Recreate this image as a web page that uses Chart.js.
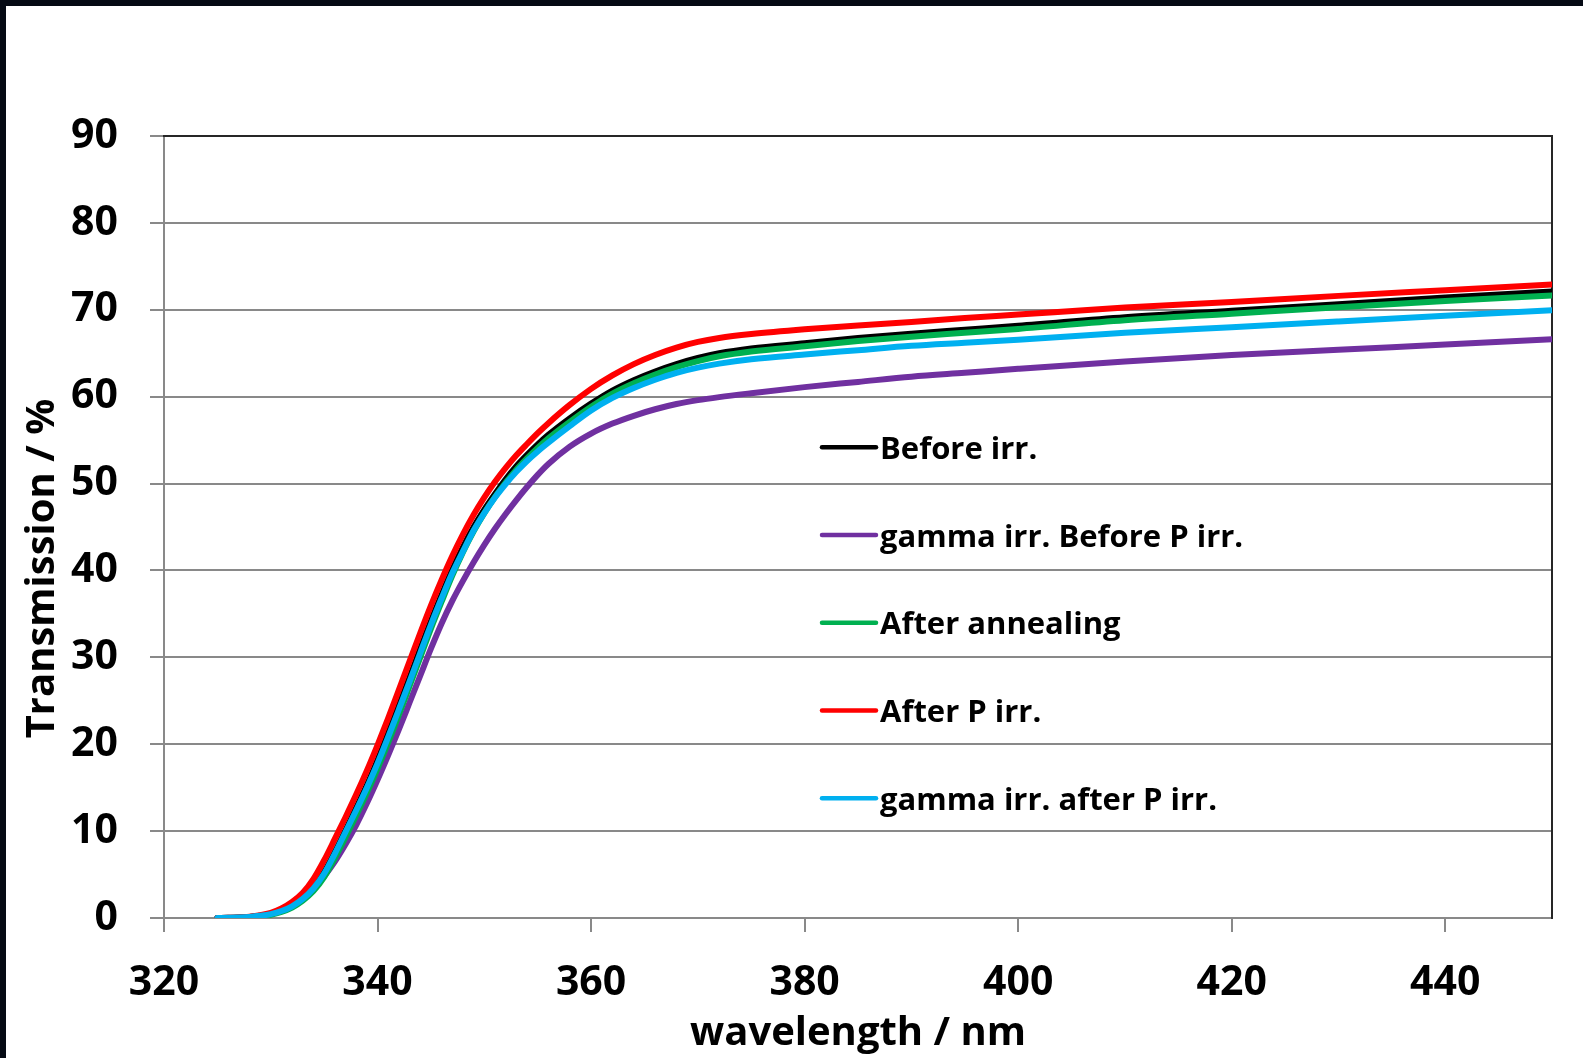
<!DOCTYPE html>
<html>
<head>
<meta charset="utf-8">
<script src="https://cdn.jsdelivr.net/npm/chart.js@4.4.1/dist/chart.umd.min.js"></script>
<style>
  html, body { margin: 0; padding: 0; background: #ffffff; overflow: hidden; }
  #wrap { position: relative; width: 1583px; height: 1058px; }
  canvas { position: absolute; left: 0; top: 0; background: #ffffff; }
  .frame { position: absolute; background: #050a14; }
</style>
</head>
<body>
<div id="wrap">
  <canvas id="c" width="1583" height="1058"></canvas>
  <div class="frame" style="left:0;top:0;width:1583px;height:6px;"></div>
  <div class="frame" style="left:0;top:0;width:6px;height:1058px;"></div>
</div>
<script>
// ---- data ----
const wavelengths = [325,326,327,328,329,330,331,332,333,334,335,336,337,338,339,340,341,342,343,344,345,346,347,348,349,350,351,352,353,354,355,356,358,360,362,364,366,368,370,372,375,380,385,390,395,400,410,420,430,440,450];

const seriesLabels = ["Before irr.", "gamma irr. Before P irr.", "After annealing", "After P irr.", "gamma irr. after P irr."];
const seriesColors = ["#000000", "#7030A0", "#00B050", "#FF0000", "#00B0F0"];

const beforeIrr = [0,0.02,0.05,0.12,0.25,0.45,0.8,1.4,2.3,3.5,5.3,7.6,10.1,12.7,15.3,18.2,21.3,24.5,27.7,31.0,34.2,37.2,40.1,42.7,45.0,47.0,48.8,50.5,52.0,53.3,54.5,55.6,57.5,59.2,60.7,61.9,62.9,63.75,64.45,65.0,65.55,66.15,66.75,67.25,67.7,68.15,69.15,69.9,70.65,71.4,72.1];
const gammaBeforeP = [0,0.01,0.04,0.1,0.22,0.45,0.85,1.45,2.3,3.4,4.8,6.5,8.5,10.7,13.2,15.9,18.75,21.7,24.8,27.9,31.0,33.9,36.5,38.8,40.95,42.95,44.8,46.5,48.1,49.6,51.0,52.25,54.25,55.75,56.9,57.8,58.55,59.15,59.6,59.95,60.4,61.1,61.7,62.3,62.75,63.2,64.05,64.8,65.4,66.0,66.6];
const afterAnnealing = [0,0.01,0.04,0.1,0.2,0.38,0.7,1.2,2.0,3.1,4.7,6.9,9.3,11.8,14.4,17.2,20.2,23.4,26.7,30.0,33.3,36.4,39.4,42.1,44.5,46.6,48.45,50.1,51.6,52.9,54.1,55.2,57.1,58.85,60.35,61.55,62.55,63.4,64.1,64.65,65.2,65.8,66.4,66.9,67.35,67.8,68.8,69.55,70.3,71.0,71.65];
const afterPIrr = [0,0.02,0.06,0.15,0.32,0.6,1.1,1.85,2.9,4.5,6.65,9.1,11.6,14.2,16.95,19.9,23.0,26.25,29.55,32.8,35.95,38.9,41.65,44.15,46.4,48.4,50.2,51.8,53.25,54.55,55.8,56.95,59.05,60.9,62.45,63.75,64.8,65.65,66.3,66.75,67.2,67.75,68.2,68.6,69.05,69.45,70.25,70.9,71.6,72.25,72.9];
const gammaAfterP = [0,0.02,0.05,0.12,0.25,0.45,0.8,1.35,2.2,3.4,5.1,7.4,9.9,12.4,15.0,17.8,20.85,24.0,27.2,30.5,33.75,36.8,39.7,42.2,44.6,46.6,48.4,49.95,51.35,52.6,53.7,54.7,56.6,58.4,59.85,61.0,61.95,62.75,63.35,63.8,64.3,64.85,65.35,65.85,66.2,66.55,67.35,68.0,68.65,69.3,69.95];

const seriesValues = [beforeIrr, gammaBeforeP, afterAnnealing, afterPIrr, gammaAfterP];
// drawing order: blue on top, black at bottom
const seriesOrder = [5, 4, 3, 2, 1];

const xTicksMin = 320, xTicksMax = 450, xTickStep = 20;
const yTicksMin = 0, yTicksMax = 90, yTickStep = 10;
const xTitle = "wavelength / nm";
const yTitle = "Transmission / %" + "\u00A0\u00A0\u00A0\u00A0\u00A0\u00A0\u00A0\u00A0";

// ---- chart ----
const FONT = '"Open Sans", "DejaVu Sans", sans-serif';
const GRID = '#898989';

const datasets = seriesValues.map((vals, i) => ({
  label: seriesLabels[i],
  data: wavelengths.map((w, j) => ({ x: w, y: vals[j] })),
  borderColor: seriesColors[i],
  backgroundColor: seriesColors[i],
  borderWidth: 6,
  pointRadius: 0,
  fill: false,
  order: seriesOrder[i],
  cubicInterpolationMode: 'monotone',
  borderCapStyle: 'round',
  borderJoinStyle: 'round'
}));

const insideLegend = {
  id: 'insideLegend',
  afterDraw(chart) {
    const { ctx, chartArea } = chart;
    ctx.save();
    chart.data.datasets.forEach((ds, i) => {
      const y = chartArea.top + 311.3 + i * 87.75;
      const x0 = chartArea.left + 658, x1 = chartArea.left + 712;
      ctx.strokeStyle = ds.borderColor;
      ctx.lineWidth = 4.5;
      ctx.lineCap = 'round';
      ctx.beginPath();
      ctx.moveTo(x0, y);
      ctx.lineTo(x1, y);
      ctx.stroke();
      ctx.fillStyle = '#000000';
      ctx.font = 'bold 31px ' + FONT;
      ctx.textAlign = 'left';
      ctx.textBaseline = 'alphabetic';
      ctx.fillText(ds.label, x1 + 4, y + 11.5);
    });
    ctx.restore();
  }
};

function build() {
  new Chart(document.getElementById('c').getContext('2d'), {
    type: 'line',
    data: { datasets },
    options: {
      responsive: false,
      animation: false,
      devicePixelRatio: 1,
      layout: { padding: { left: 0, top: 136, right: 31, bottom: 0 } },
      plugins: { legend: { display: false }, tooltip: { enabled: false } },
      scales: {
        x: {
          type: 'linear', position: 'bottom', min: xTicksMin, max: xTicksMax,
          ticks: { stepSize: xTickStep, includeBounds: false, padding: 27, color: '#000',
                   font: { family: FONT, size: 41, weight: 'bold' }, maxRotation: 0 },
          grid: { drawOnChartArea: false, drawTicks: true, tickLength: 14, color: GRID, lineWidth: 2 },
          border: { color: GRID, width: 2 },
          title: { display: true, text: xTitle, color: '#000',
                   font: { family: FONT, size: 40, weight: 'bold' }, padding: { top: 0, bottom: 0 } },
          afterFit(s) { s.height = 140; }
        },
        y: {
          type: 'linear', position: 'left', min: yTicksMin, max: yTicksMax,
          ticks: { stepSize: yTickStep, padding: 32, color: '#000',
                   font: { family: FONT, size: 41, weight: 'bold' } },
          grid: { drawTicks: true, tickLength: 14, color: GRID, lineWidth: 2 },
          border: { color: GRID, width: 2 },
          title: { display: true, text: yTitle, color: '#000',
                   font: { family: FONT, size: 40, weight: 'bold' }, padding: { top: 19, bottom: 0 } },
          afterFit(s) { s.width = 164; }
        },
        xTop: {
          type: 'linear', position: 'top', min: xTicksMin, max: xTicksMax, z: 1,
          ticks: { display: false }, grid: { display: false },
          border: { display: true, color: '#262626', width: 2 },
          afterFit(s) { s.height = 0; }
        },
        yRight: {
          type: 'linear', position: 'right', min: yTicksMin, max: yTicksMax, z: 1,
          ticks: { display: false }, grid: { display: false },
          border: { display: true, color: '#262626', width: 2 },
          afterFit(s) { s.width = 0; }
        }
      }
    },
    plugins: [insideLegend]
  });
}

if (document.fonts && document.fonts.load) {
  Promise.all([
    document.fonts.load('bold 40px "Open Sans"'),
    document.fonts.load('bold 31px "Open Sans"')
  ]).then(build, build);
} else {
  build();
}
</script>
</body>
</html>
